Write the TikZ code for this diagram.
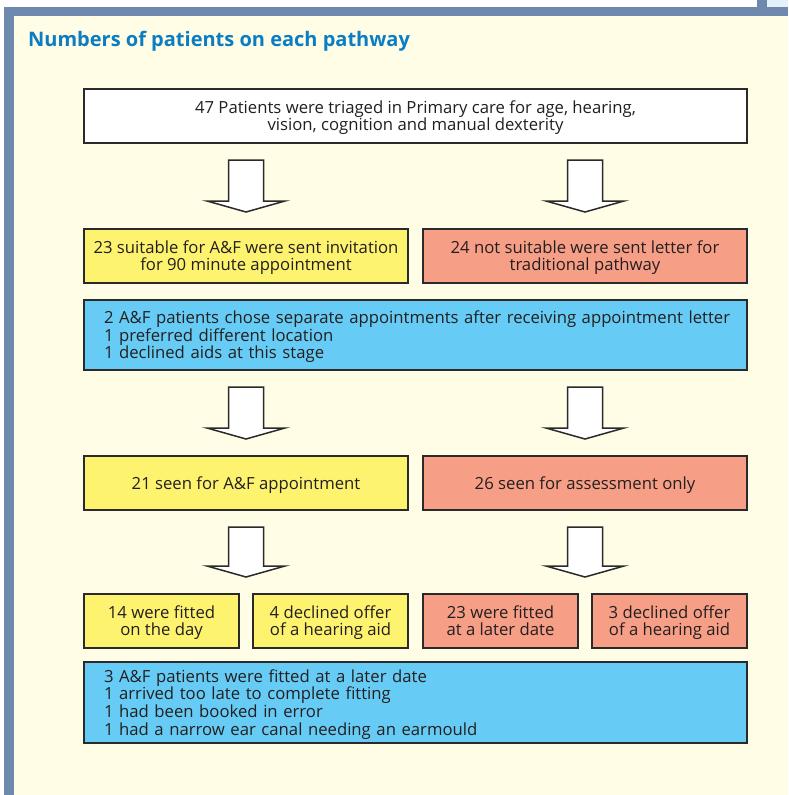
\documentclass[tikz,border=0pt]{standalone}
\usepackage{fontspec}
\setmainfont{Open Sans}
\usetikzlibrary{calc,shadows}
\definecolor{cream}{HTML}{FFFDE6}
\definecolor{framecol}{HTML}{6E89AD}
\definecolor{lightpanel}{HTML}{E4F1FA}
\definecolor{titleblue}{HTML}{0B7DC3}
\definecolor{boxyellow}{HTML}{FEF36F}
\definecolor{boxsalmon}{HTML}{F79F86}
\definecolor{boxblue}{HTML}{66CCF5}
\definecolor{ink}{HTML}{231F20}
\definecolor{edgecol}{HTML}{2B2A2A}
\newcommand\tstrut{\rule{0pt}{17.5pt}}
\newcommand\blockarrow[3]{%
  \draw[bigarrow] let \p1=(#1.south), \p2=(#2.south), \p3=(#3.north) in
   (\x2-17.5pt,\y1-16pt) -- (\x2-17.5pt,\y3+27pt) -- (\x2-39pt,\y3+27pt) --
   (\x2,\y3+16pt) -- (\x2+39pt,\y3+27pt) -- (\x2+17.5pt,\y3+27pt) --
   (\x2+17.5pt,\y1-16pt) -- cycle;}
\begin{document}
\begin{tikzpicture}[x=1pt,y=-1pt,
  box/.style={draw=edgecol, line width=2pt, text=ink, inner sep=0pt,
    font=\fontsize{16.7}{17.6}\selectfont, align=center,
    drop shadow={shadow xshift=1pt, shadow yshift=-1pt, fill=black, opacity=.3}},
  widebox/.style={box, minimum width=663pt, text width=623pt, align=left},
  halfbox/.style={box, minimum width=324pt, minimum height=54pt},
  quarterbox/.style={box, minimum width=155pt, minimum height=54pt},
  bigarrow/.style={draw=edgecol, line width=1.5pt, fill=white, line join=miter}]
\useasboundingbox (0,0) rectangle (788,795);
% frame
\fill[white] (0,0) rectangle (788,795);
\fill[cream] (14,16) rectangle (788,795);
\fill[lightpanel] (767,0) rectangle (788,8);
\fill[framecol] (4,7) rectangle (788,16);
\fill[framecol] (4,7) rectangle (14,795);
\fill[framecol] (757,0) rectangle (767,16);
% title
\node[anchor=base west, inner sep=0pt, text=titleblue,
  font=\fontsize{20}{24}\selectfont\bfseries] (title) at (28,46)
  {Numbers of patients on each pathway};
% boxes
\node[box, fill=white, minimum width=663pt, minimum height=54pt] (b1) at (415.5,116)
  {\tstrut 47 Patients were triaged in Primary care for age, hearing,\\ vision, cognition and manual dexterity\strut};
\node[halfbox, fill=boxyellow] (y2) at (246,256)
  {\tstrut 23 suitable for A\&F were sent invitation\\ for 90 minute appointment\strut};
\node[halfbox, fill=boxsalmon] (s2) at (585,256)
  {\tstrut 24 not suitable were sent letter for\\ traditional pathway\strut};
\node[widebox, fill=boxblue, minimum height=70pt] (n3) at (415.5,335)
  {\mbox{\tstrut 2 A\&F patients chose separate appointments after receiving appointment letter}\\
   1 preferred different location\\ 1 declined aids at this stage\strut};
\node[halfbox, fill=boxyellow] (y4) at (246,483) {\tstrut 21 seen for A\&F appointment\strut};
\node[halfbox, fill=boxsalmon] (s4) at (585,483) {\tstrut 26 seen for assessment only\strut};
\node[quarterbox, fill=boxyellow] (r5a) at (161.5,621) {\tstrut 14 were fitted\\ on the day\strut};
\node[quarterbox, fill=boxyellow] (r5b) at (330.5,621) {\tstrut 4 declined offer\\ of a hearing aid\strut};
\node[quarterbox, fill=boxsalmon] (r5c) at (500.5,621) {\tstrut 23 were fitted\\ at a later date\strut};
\node[quarterbox, fill=boxsalmon] (r5d) at (669.5,621) {\tstrut 3 declined offer\\ of a hearing aid\strut};
\node[widebox, fill=boxblue, minimum height=81pt] (n6) at (415.5,702.5)
  {\tstrut 3 A\&F patients were fitted at a later date\\
   1 arrived too late to complete fitting\\
   1 had been booked in error\\
   1 had a narrow ear canal needing an earmould\strut};
% block arrows
\blockarrow{b1}{y2}{y2}
\blockarrow{b1}{s2}{s2}
\blockarrow{n3}{y4}{y4}
\blockarrow{n3}{s4}{s4}
\blockarrow{y4}{y4}{r5a}
\blockarrow{s4}{s4}{r5c}
\end{tikzpicture}
\end{document}
